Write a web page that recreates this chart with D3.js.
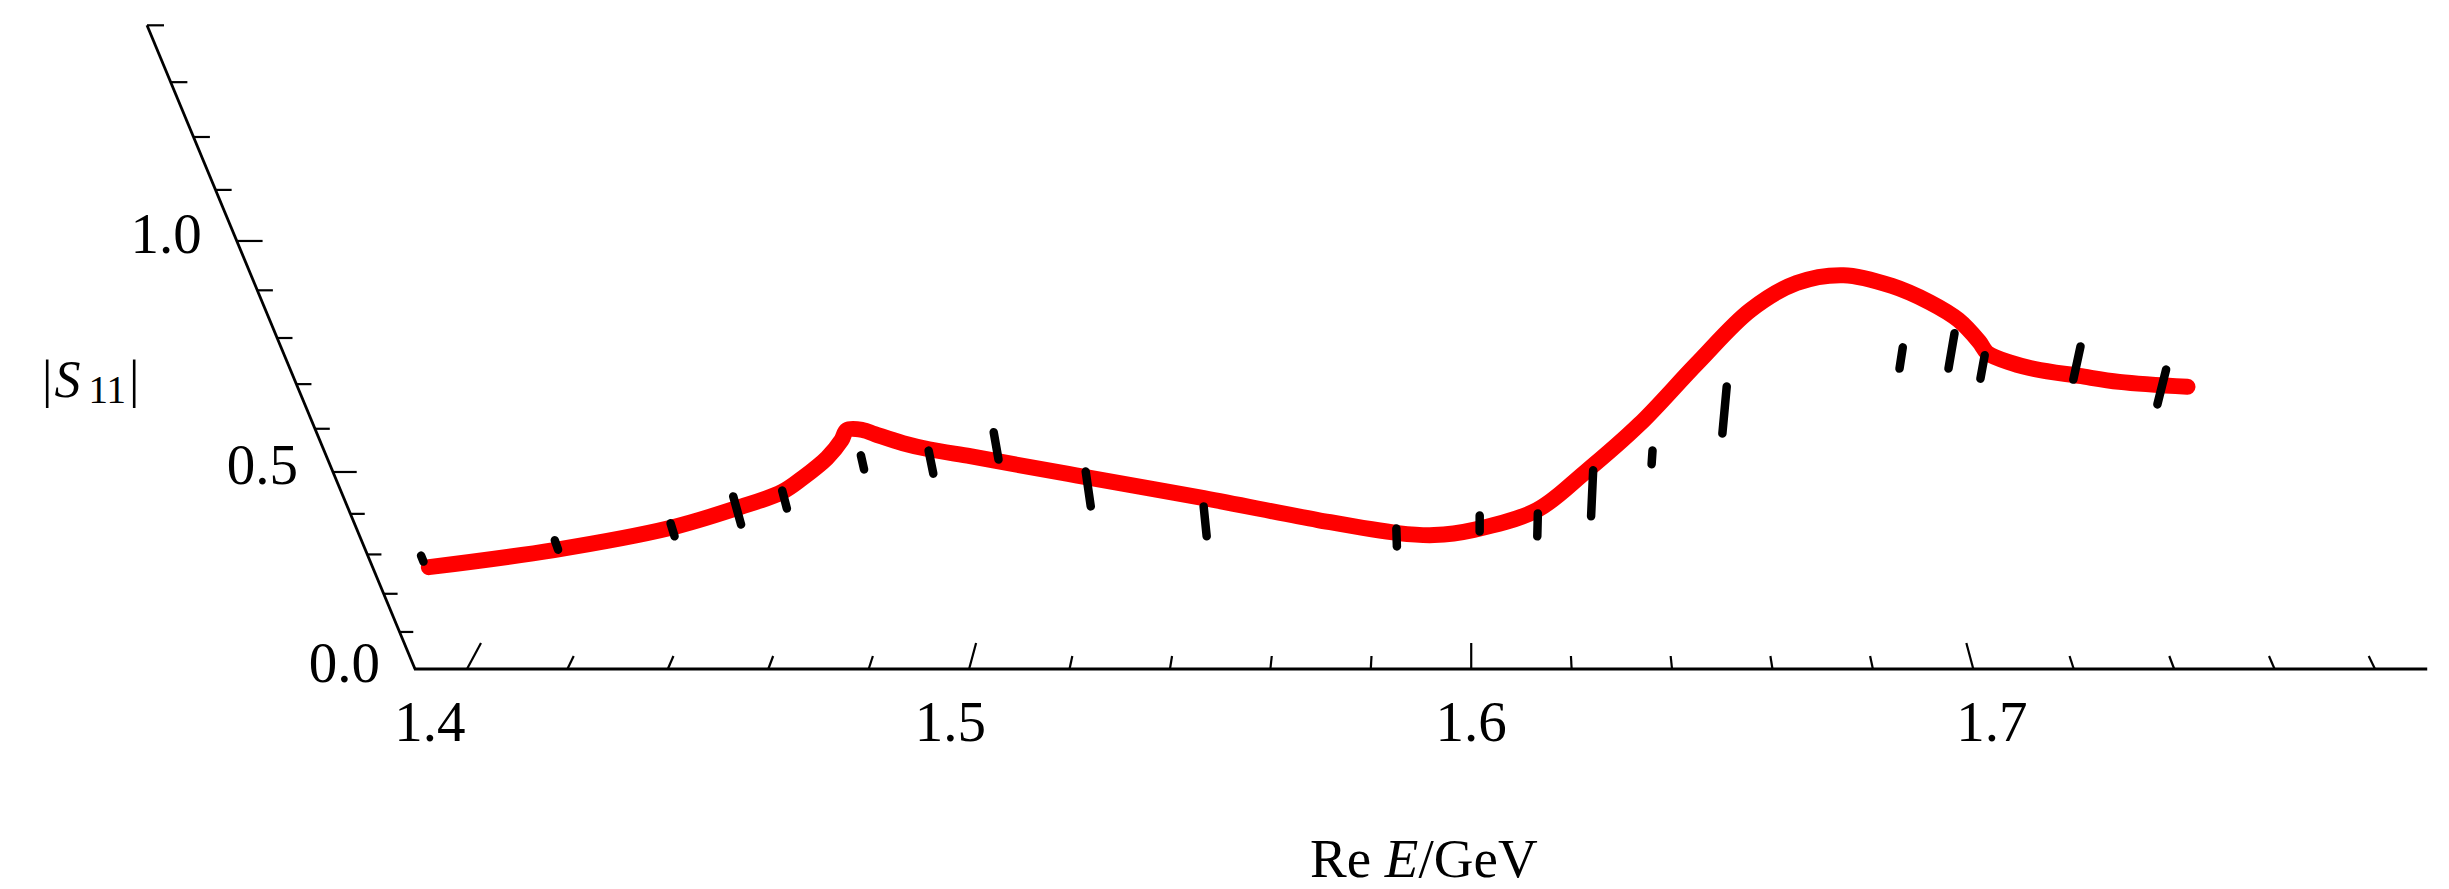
<!DOCTYPE html>
<html>
<head>
<meta charset="utf-8">
<script src="https://cdn.jsdelivr.net/npm/d3@7"></script>
<style>
  html, body { margin: 0; padding: 0; background: #fff; }
  svg { display: block; }
  text { font-family: "Liberation Serif", "Times New Roman", serif; fill: #000; }
</style>
</head>
<body>
<script>
// ---------------- data ----------------
const curveE = [1.4006, 1.4257, 1.4490, 1.4627, 1.4719, 1.4764, 1.4818, 1.4852, 1.4866, 1.4895, 1.4915,
  1.4963, 1.5008, 1.5081, 1.5127, 1.5270, 1.5502, 1.5712, 1.5862, 1.5930, 1.6005, 1.6123, 1.6209,
  1.6305, 1.6401, 1.6486, 1.6561, 1.6640, 1.6726, 1.6796, 1.6851, 1.6894,
  1.6912, 1.6959, 1.7002, 1.7083, 1.7157, 1.7281];
const curveS = [0.268, 0.311, 0.3655, 0.414, 0.4526, 0.486, 0.533, 0.574, 0.597, 0.597, 0.588,
  0.567, 0.553, 0.537, 0.526, 0.492, 0.438, 0.385, 0.353, 0.348, 0.361, 0.409, 0.498,
  0.610, 0.746, 0.859, 0.915, 0.931, 0.909, 0.875, 0.838, 0.792,
  0.768, 0.746, 0.733, 0.718, 0.705, 0.694];

const barE  = [1.400, 1.4265, 1.4494, 1.4626, 1.4720, 1.4881, 1.5007, 1.5132, 1.5289, 1.5500, 1.5859,
  1.6016, 1.6125, 1.6225, 1.6332, 1.6457, 1.6761, 1.6848, 1.6908, 1.7074, 1.7235];
const barLo = [0.282, 0.312, 0.345, 0.374, 0.413, 0.506, 0.496, 0.529, 0.418, 0.345, 0.320,
  0.357, 0.345, 0.394, 0.518, 0.589, 0.734, 0.734, 0.712, 0.710, 0.655];
const barHi = [0.297, 0.335, 0.377, 0.442, 0.456, 0.539, 0.550, 0.592, 0.501, 0.418, 0.364,
  0.396, 0.401, 0.504, 0.550, 0.695, 0.780, 0.810, 0.763, 0.782, 0.732];

const xMajorTicks = [1.4, 1.5, 1.6, 1.7];
const xTickLabels = ["1.4", "1.5", "1.6", "1.7"];
const xMinorTicks = d3.range(1.40, 1.7801, 0.02).map(v => +v.toFixed(2));
const yMajorTicks = [0.0, 0.5, 1.0];
const yTickLabels = ["0.0", "0.5", "1.0"];
const yMinorTicks = d3.range(0.1, 1.4001, 0.1).map(v => +v.toFixed(1));
const xDomainAxis = [1.38944, 1.7904];
const yAxisTop = 1.4;

// ---------------- layout ----------------
const W = 2449, H = 889;
const svg = d3.select("body").append("svg").attr("width", W).attr("height", H);
svg.append("rect").attr("width", W).attr("height", H).attr("fill", "#fff");

// base (un-projected) scales
const xBase = d3.scaleLinear().domain([1.4, 1.78]).range([467, 2375]);
const wScale = d3.scaleLinear().domain([0, 1]).range([1, 1 - 0.1472]);   // perspective divisor
const VPx = 1472, VPy = 3148.8, Y0 = 669;           // vertical vanishing point & baseline
const yOf = S => VPy - (VPy - Y0) / wScale(S);
const project = (E, S) => {
  const w = wScale(S);
  return [VPx + (xBase(E) - VPx) / w, VPy - (VPy - Y0) / w];
};

// ---------------- axes ----------------
const axisG = svg.append("g").attr("stroke", "#000").attr("fill", "none");

// x axis line
axisG.append("line")
  .attr("x1", xBase(xDomainAxis[0])).attr("x2", xBase(xDomainAxis[1]))
  .attr("y1", Y0).attr("y2", Y0).attr("stroke-width", 3);

// x ticks (pointing into depth, towards a far vanishing point)
const VPd = [1472, -1199];
xMinorTicks.forEach(v => {
  const major = xMajorTicks.some(m => Math.abs(m - v) < 1e-6);
  const L = major ? 26 : 13;
  const t = xBase(v);
  axisG.append("line")
    .attr("x1", t).attr("y1", Y0)
    .attr("x2", t + (VPd[0] - t) * L / (Y0 - VPd[1])).attr("y2", Y0 - L)
    .attr("stroke-width", 2.2);
});

// y axis line (slanted)
const yTopPx = yOf(yAxisTop);
const axisX = d3.scaleLinear().domain([Y0, yTopPx]).range([415, 147]);
axisG.append("line")
  .attr("x1", axisX(Y0)).attr("y1", Y0)
  .attr("x2", axisX(yTopPx)).attr("y2", yTopPx)
  .attr("stroke-width", 2.8);

// y ticks
yMinorTicks.forEach(v => {
  const major = yMajorTicks.some(m => Math.abs(m - v) < 1e-6);
  const y = yOf(v);
  const x1 = axisX(y);
  const len = (major ? 22 : 13.5) / wScale(v);
  axisG.append("line")
    .attr("x1", x1).attr("x2", x1 + len)
    .attr("y1", y).attr("y2", y)
    .attr("stroke-width", 2.2);
});

// tick labels
const labG = svg.append("g").attr("font-size", 57);
xMajorTicks.forEach((v, i) => {
  const t = xBase(v);
  labG.append("text")
    .attr("x", t + (t - VPx) * 0.037).attr("y", 741)
    .attr("text-anchor", "middle")
    .text(xTickLabels[i]);
});
yMajorTicks.forEach((v, i) => {
  const y = yOf(v);
  labG.append("text")
    .attr("x", axisX(y) - 35).attr("y", y + 12.5)
    .attr("text-anchor", "end")
    .text(yTickLabels[i]);
});

// axis titles
const yt = svg.append("text").attr("x", 42).attr("y", 397).attr("font-size", 52);
yt.append("tspan").text("|");
yt.append("tspan").attr("font-style", "italic").attr("dx", 2).text("S");
yt.append("tspan").attr("font-size", 39).attr("dx", 8).attr("dy", 6).text("11");
yt.append("tspan").attr("dx", 3).attr("dy", -6).text("|");

const xt = svg.append("text").attr("x", 1310).attr("y", 877).attr("font-size", 55);
xt.append("tspan").text("Re ");
xt.append("tspan").attr("font-style", "italic").text("E");
xt.append("tspan").text("/GeV");

// ---------------- curve ----------------
const pts = curveE.map((e, i) => project(e, curveS[i]));
svg.append("path")
  .attr("d", d3.line().curve(d3.curveCatmullRom.alpha(0.5))(pts))
  .attr("fill", "none").attr("stroke", "#ff0000")
  .attr("stroke-width", 16).attr("stroke-linecap", "round").attr("stroke-linejoin", "round");

// ---------------- error bars ----------------
const barG = svg.append("g").attr("stroke", "#000").attr("stroke-width", 8.5).attr("stroke-linecap", "round");
barE.forEach((e, i) => {
  const a = project(e, barLo[i]), b = project(e, barHi[i]);
  barG.append("line").attr("x1", a[0]).attr("y1", a[1]).attr("x2", b[0]).attr("y2", b[1]);
});
</script>
</body>
</html>
